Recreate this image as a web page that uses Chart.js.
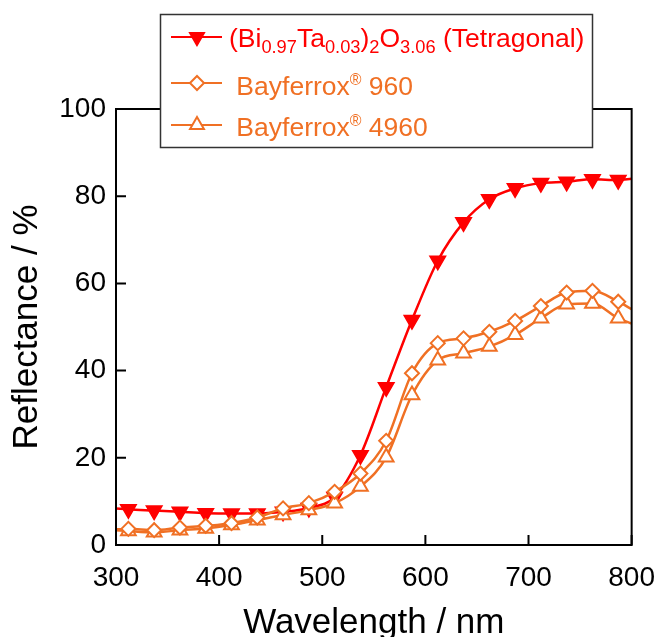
<!DOCTYPE html>
<html>
<head>
<meta charset="utf-8">
<script src="https://cdn.jsdelivr.net/npm/chart.js@4.4.0/dist/chart.umd.min.js"></script>
<style>
  html, body { margin: 0; padding: 0; background: #fff; }
</style>
</head>
<body>
<canvas id="reflectance-chart" width="671" height="637"></canvas>
<script>
// wavelength (nm) - markers every 25 nm, plus the two ends of the scan
const wavelengths = [300, 312, 337, 362, 387, 412, 437, 462, 487, 512, 537, 562, 587, 612, 637, 662, 687, 712, 737, 762, 787, 800];
const bitaTetragonal = [8.4, 8.2, 7.9, 7.6, 7.3, 7.2, 7.2, 7.6, 8.5, 11.0, 20.6, 36.2, 51.6, 65.2, 74.0, 79.3, 81.8, 83.0, 83.3, 83.9, 83.7, 84.0];
const bayferrox960 = [3.6, 3.7, 3.4, 4.0, 4.4, 5.0, 6.3, 8.4, 9.6, 12.2, 16.4, 23.9, 39.4, 46.3, 47.4, 48.9, 51.4, 54.8, 57.9, 58.3, 55.8, 54.1];
const bayferrox4960 = [3.4, 3.2, 2.9, 3.4, 3.8, 4.6, 5.7, 6.9, 8.0, 9.6, 13.4, 20.1, 34.4, 42.4, 44.0, 45.5, 48.2, 52.0, 55.2, 55.4, 52.0, 50.8];

const xTicks = [300, 400, 500, 600, 700, 800];
const yTicks = [0, 20, 40, 60, 80, 100];

// legend text, _{} = subscript, ^{} = superscript
const seriesLabels = [
    '(Bi_{0.97}Ta_{0.03})_{2}O_{3.06} (Tetragonal)',
    ' Bayferrox^{®} 960',
    ' Bayferrox^{®} 4960'
];

const RED = '#FF0000';
const ORANGE = '#F07024';
const FONT = '"Liberation Sans", Arial, sans-serif';

const toPoints = vals => wavelengths.map((w, i) => ({ x: w, y: vals[i] }));
const markerSizes = r => wavelengths.map(w => (w === 300 || w === 800) ? 0 : r);
const plainLabel = s => s.replace(/[_^]\{([^}]*)\}/g, '$1').trim();

function drawRich(ctx, text, x, y, size) {
    const parts = text.split(/([_^]\{[^}]*\})/).filter(p => p.length);
    parts.forEach(p => {
        let s = p, fs = size, dy = 0;
        if (p[0] === '_') { s = p.slice(2, -1); fs = size * 0.69; dy = 6; }
        else if (p[0] === '^') { s = p.slice(2, -1); fs = size * 0.6; dy = -10; }
        ctx.font = fs + 'px ' + FONT;
        ctx.fillText(s, x, y + dy);
        x += ctx.measureText(s).width;
    });
}

// box around the plot + ticks pointing inwards
const frameTicks = {
    id: 'frameTicks',
    afterDatasetsDraw(chart) {
        const { ctx, chartArea: a, scales: { x, y } } = chart;
        ctx.save();
        ctx.strokeStyle = '#000';
        ctx.lineWidth = 2;
        ctx.strokeRect(a.left, a.top, a.right - a.left, a.bottom - a.top);
        ctx.beginPath();
        x.ticks.forEach(t => {
            const px = x.getPixelForValue(t.value);
            ctx.moveTo(px, a.bottom);
            ctx.lineTo(px, a.bottom - 10);
        });
        y.ticks.forEach(t => {
            const py = y.getPixelForValue(t.value);
            ctx.moveTo(a.left, py);
            ctx.lineTo(a.left + 10, py);
        });
        ctx.stroke();
        ctx.restore();
    }
};

// boxed legend at the top, with sub/superscripts
const boxLegend = {
    id: 'boxLegend',
    afterDraw(chart) {
        const ctx = chart.ctx;
        const rows = [{ line: 37, text: 47 }, { line: 83, text: 95 }, { line: 125, text: 136 }];
        ctx.save();
        ctx.fillStyle = '#fff';
        ctx.strokeStyle = '#333';
        ctx.lineWidth = 1.5;
        ctx.fillRect(160, 14, 433, 134);
        ctx.strokeRect(160.5, 14.5, 432, 133);
        chart.data.datasets.forEach((ds, i) => {
            const r = rows[i];
            ctx.strokeStyle = ds.borderColor;
            ctx.lineWidth = 2;
            ctx.beginPath();
            ctx.moveTo(171, r.line);
            ctx.lineTo(222, r.line);
            ctx.stroke();
            ctx.fillStyle = ds.pointBackgroundColor;
            ctx.strokeStyle = ds.pointBorderColor;
            ctx.lineWidth = ds.pointBorderWidth;
            Chart.helpers.drawPoint(ctx, {
                pointStyle: ds.pointStyle,
                rotation: ds.pointRotation || 0,
                radius: ds.legendRadius,
                borderWidth: ds.pointBorderWidth
            }, 197, r.line);
            ctx.fillStyle = ds.borderColor;
            ctx.textBaseline = 'alphabetic';
            drawRich(ctx, seriesLabels[i], 229, r.text, 26.5);
        });
        ctx.restore();
    }
};

const reflCanvas = document.querySelector('#reflectance-chart').getContext('2d');

let reflChart = new Chart(reflCanvas, {
    type: 'line',
    data: {
        datasets: [
            {
                label: plainLabel(seriesLabels[0]),
                data: toPoints(bitaTetragonal),
                borderColor: RED,
                borderWidth: 2.5,
                pointStyle: 'triangle',
                pointRotation: 180,
                pointRadius: markerSizes(9),
                legendRadius: 8.5,
                pointBackgroundColor: RED,
                pointBorderColor: RED,
                pointBorderWidth: 1.5,
                order: 3
            },
            {
                label: plainLabel(seriesLabels[1]),
                data: toPoints(bayferrox960),
                borderColor: ORANGE,
                borderWidth: 2.5,
                pointStyle: 'rectRot',
                pointRadius: markerSizes(7),
                legendRadius: 7,
                pointBackgroundColor: '#fff',
                pointBorderColor: ORANGE,
                pointBorderWidth: 2,
                order: 1
            },
            {
                label: plainLabel(seriesLabels[2]),
                data: toPoints(bayferrox4960),
                borderColor: ORANGE,
                borderWidth: 2.5,
                pointStyle: 'triangle',
                pointRadius: markerSizes(8.5),
                legendRadius: 8,
                pointBackgroundColor: '#fff',
                pointBorderColor: ORANGE,
                pointBorderWidth: 2,
                order: 2
            }
        ]
    },
    options: {
        responsive: false,
        animation: false,
        layout: {
            padding: { top: 109, right: 28, bottom: 0, left: 0 }
        },
        elements: {
            line: { cubicInterpolationMode: 'monotone' }
        },
        plugins: {
            legend: { display: false },
            title: { display: false },
            tooltip: { enabled: false }
        },
        scales: {
            x: {
                type: 'linear',
                min: 300,
                max: 800,
                afterBuildTicks: s => { s.ticks = xTicks.map(v => ({ value: v })); },
                afterFit: s => { s.height = 92; },
                grid: { display: false, drawTicks: false },
                border: { display: false },
                ticks: { color: '#000', padding: 16, font: { family: FONT, size: 28 } },
                title: {
                    display: true,
                    text: 'Wavelength / nm',
                    color: '#000',
                    font: { family: FONT, size: 35, lineHeight: 1 },
                    padding: { top: 0, bottom: -4 }
                }
            },
            y: {
                min: 0,
                max: 100,
                afterBuildTicks: s => { s.ticks = yTicks.map(v => ({ value: v })); },
                afterFit: s => { s.width = 116; },
                grid: { display: false, drawTicks: false },
                border: { display: false },
                ticks: { color: '#000', padding: 10, font: { family: FONT, size: 28 } },
                title: {
                    display: true,
                    text: 'Reflectance / %',
                    color: '#000',
                    font: { family: FONT, size: 35, lineHeight: 1 },
                    padding: { top: 10, bottom: 0 }
                }
            }
        }
    },
    plugins: [frameTicks, boxLegend]
});
</script>
</body>
</html>
